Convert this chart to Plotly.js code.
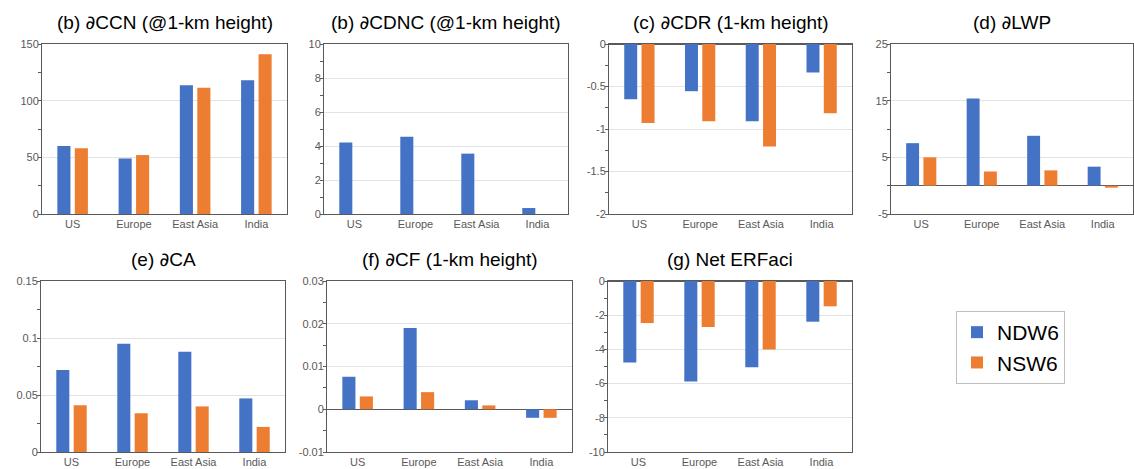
<!DOCTYPE html>
<html>
<head>
<meta charset="utf-8">
<script src="https://cdn.plot.ly/plotly-3.0.1.min.js"></script>
<style>html,body{margin:0;padding:0;background:#fff;}#chart{width:1134px;height:469px;}</style>
</head>
<body>
<div id="chart"></div>
<script>
// ---- data ----
const categories = ['US', 'Europe', 'East Asia', 'India'];
const seriesNames = ['NDW6', 'NSW6'];
const panelTitles = ['(b) ∂CCN (@1-km height)', '(b) ∂CDNC (@1-km height)', '(c) ∂CDR (1-km height)', '(d) ∂LWP',
                     '(e) ∂CA', '(f) ∂CF (1-km height)', '(g) Net ERFaci'];

const ccnNDW6 = [60, 49, 113.5, 118];
const ccnNSW6 = [58, 52, 111.5, 141];
const cdncNDW6 = [4.2, 4.55, 3.55, 0.35];
const cdncNSW6 = [null, null, null, null];
const cdrNDW6 = [-0.65, -0.555, -0.91, -0.335];
const cdrNSW6 = [-0.93, -0.91, -1.205, -0.815];
const lwpNDW6 = [7.5, 15.4, 8.8, 3.35];
const lwpNSW6 = [5.0, 2.5, 2.7, -0.35];
const caNDW6 = [0.072, 0.095, 0.088, 0.047];
const caNSW6 = [0.041, 0.034, 0.040, 0.022];
const cfNDW6 = [0.0076, 0.019, 0.0021, -0.002];
const cfNSW6 = [0.003, 0.004, 0.0009, -0.002];
const erfNDW6 = [-4.76, -5.87, -5.05, -2.38];
const erfNSW6 = [-2.46, -2.69, -4.0, -1.48];

const ccnTicks = [0, 50, 100, 150];           const ccnTickText = ['0', '50', '100', '150'];
const cdncTicks = [0, 2, 4, 6, 8, 10];        const cdncTickText = ['0', '2', '4', '6', '8', '10'];
const cdrTicks = [-2, -1.5, -1, -0.5, 0];     const cdrTickText = ['-2', '-1.5', '-1', '-0.5', '0'];
const lwpTicks = [-5, 5, 15, 25];             const lwpTickText = ['-5', '5', '15', '25'];
const caTicks = [0, 0.05, 0.1, 0.15];         const caTickText = ['0', '0.05', '0.1', '0.15'];
const cfTicks = [-0.01, 0, 0.01, 0.02, 0.03]; const cfTickText = ['-0.01', '0', '0.01', '0.02', '0.03'];
const erfTicks = [-10, -8, -6, -4, -2, 0];    const erfTickText = ['-10', '-8', '-6', '-4', '-2', '0'];

// ---- panels ----
const W = 1134, H = 469;
const panels = [
  {a: ccnNDW6, b: ccnNSW6, tv: ccnTicks, tt: ccnTickText, range: [0, 150], minor: 25, px: [42, 287], py: [44, 214]},
  {a: cdncNDW6, b: cdncNSW6, tv: cdncTicks, tt: cdncTickText, range: [0, 10], minor: 1, px: [324, 568], py: [44, 214]},
  {a: cdrNDW6, b: cdrNSW6, tv: cdrTicks, tt: cdrTickText, range: [-2, 0], minor: 0.25, px: [609, 852], py: [44, 214]},
  {a: lwpNDW6, b: lwpNSW6, tv: lwpTicks, tt: lwpTickText, range: [-5, 25], minor: 5, px: [891, 1133], py: [44, 214]},
  {a: caNDW6, b: caNSW6, tv: caTicks, tt: caTickText, range: [0, 0.15], minor: 0.025, px: [41, 285], py: [281, 452]},
  {a: cfNDW6, b: cfNSW6, tv: cfTicks, tt: cfTickText, range: [-0.01, 0.03], minor: 0.005, px: [327, 572], py: [281, 452]},
  {a: erfNDW6, b: erfNSW6, tv: erfTicks, tt: erfTickText, range: [-10, 0], minor: 1, px: [608, 852], py: [281, 452]}
];

const colors = ['#4472C4', '#ED7D31'];
const font = 'Liberation Sans, Arial, Helvetica, sans-serif';
const traces = [];
const layout = {
  width: W, height: H,
  margin: {l: 0, r: 0, t: 0, b: 0},
  paper_bgcolor: '#fff', plot_bgcolor: '#fff',
  barmode: 'group', bargap: 0.43, bargroupgap: 0.25,
  font: {family: font, color: '#595959', size: 11},
  showlegend: true,
  legend: {
    x: 956 / W, y: 1 - 311 / H, xanchor: 'left', yanchor: 'top',
    bordercolor: '#bfbfbf', borderwidth: 1, bgcolor: '#fff',
    font: {family: font, size: 21, color: '#000'},
    itemwidth: 30, tracegroupgap: 0
  },
  annotations: []
};

// upright partial-derivative glyph
function fmtTitle(t) {
  return t.replace('∂', '<span style="font-family:DejaVu Sans">∂</span>');
}

panels.forEach((p, i) => {
  const k = i === 0 ? '' : String(i + 1);
  [p.a, p.b].forEach((vals, s) => {
    traces.push({
      type: 'bar', x: categories, y: vals, name: seriesNames[s],
      xaxis: 'x' + k, yaxis: 'y' + k,
      marker: {color: colors[s], line: {width: 0}},
      showlegend: i === 0, legendgroup: seriesNames[s], hoverinfo: 'skip'
    });
  });
  layout['xaxis' + k] = {
    domain: [p.px[0] / W, p.px[1] / W], anchor: 'y' + k,
    type: 'category', showline: true, mirror: true, linecolor: '#595959', linewidth: 1,
    ticks: '', showgrid: false, zeroline: false, fixedrange: true,
    tickfont: {family: font, size: 11, color: '#595959'}
  };
  layout['yaxis' + k] = {
    domain: [1 - p.py[1] / H, 1 - p.py[0] / H], anchor: 'x' + k,
    range: p.range, tickmode: 'array', tickvals: p.tv, ticktext: p.tt,
    showline: true, mirror: true, linecolor: '#595959', linewidth: 1,
    ticks: '', showgrid: true, gridcolor: '#e3e3e3', gridwidth: 1,
    zeroline: true, zerolinecolor: '#595959', zerolinewidth: 1,
    minor: {tickmode: 'linear', tick0: 0, dtick: p.minor, ticks: 'outside', ticklen: 3, tickcolor: '#595959', showgrid: false},
    tickfont: {family: font, size: 11, color: '#595959'}, fixedrange: true
  };
  layout.annotations.push({
    text: fmtTitle(panelTitles[i]), xref: 'paper', yref: 'paper',
    x: (p.px[0] + p.px[1]) / 2 / W, y: 1 - (p.py[0] - 22) / H,
    xanchor: 'center', yanchor: 'middle', showarrow: false,
    font: {family: font, size: 19, color: '#000'}
  });
});

Plotly.newPlot('chart', traces, layout, {staticPlot: true, displayModeBar: false});
</script>
</body>
</html>
